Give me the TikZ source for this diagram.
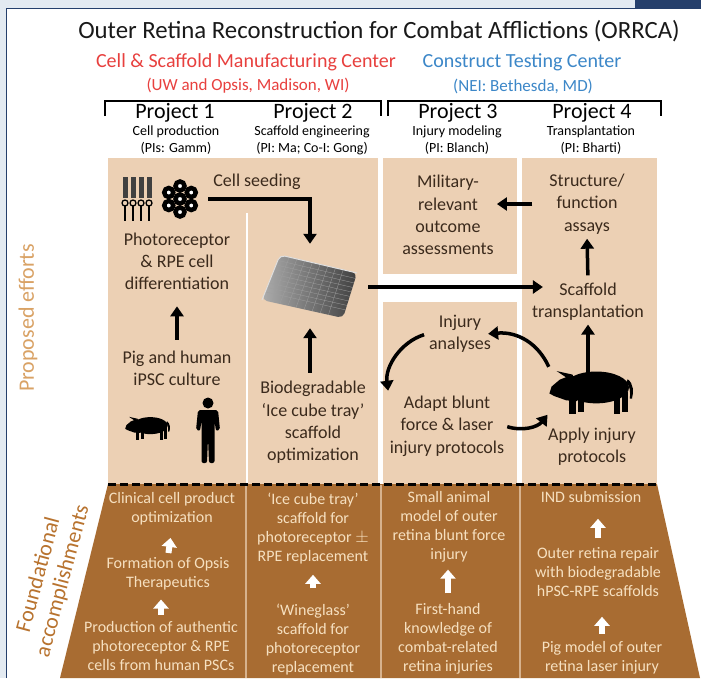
\documentclass[tikz,border=0pt]{standalone}
\usepackage{fontspec}
\setmainfont{Carlito}
\usetikzlibrary{arrows.meta,calc}

\definecolor{slide}{HTML}{E3EAF1}
\definecolor{frameblue}{HTML}{253F6B}
\definecolor{tan}{HTML}{ECD0B4}
\definecolor{bark}{HTML}{A86C32}
\definecolor{ink}{HTML}{3B2A1C}
\definecolor{cream}{HTML}{F6E0C0}
\definecolor{mfgred}{HTML}{E8403E}
\definecolor{testblue}{HTML}{3C87C8}
\definecolor{propcol}{HTML}{D9A265}
\definecolor{foundcol}{HTML}{B8732F}

\newcommand\fsz[2]{\fontsize{#1}{#2}\selectfont}

\tikzset{
  pig/.pic={
    \fill (0.1,-0.06) ellipse (0.76 and 0.37);
    \fill (-0.45,-0.36) -- (-0.75,-0.24) -- (-0.94,-0.08) -- (-0.99,0.08) -- (-0.88,0.14) -- (-0.6,0.24) -- (-0.35,0.26) -- cycle;
    \fill (-0.58,-0.28) -- (-0.82,-0.44) -- (-0.46,-0.36) -- cycle;
    \fill (-0.54,0.1) rectangle (-0.38,0.56);
    \fill (-0.32,0.15) rectangle (-0.18,0.5);
    \fill (0.5,0.1) rectangle (0.65,0.56);
    \fill (0.7,0.05) rectangle (0.83,0.5);
    \fill (0.83,-0.25) .. controls (0.97,-0.15) and (0.97,0.05) .. (0.93,0.2) -- (0.88,0.2) .. controls (0.9,0.05) and (0.88,-0.1) .. (0.8,-0.18) -- cycle;
  },
  man/.pic={
    \fill (0,-27) circle (5.5);
    \fill[rounded corners=2pt] (-10,-20) -- (10,-20) -- (12,0) -- (8,1) -- (6.5,-9) -- (6.5,33) -- (1,33) -- (0,8) -- (-1,33) -- (-6.5,33) -- (-6.5,-9) -- (-8,1) -- (-12,0) -- cycle;
  }
}

\begin{document}
\begin{tikzpicture}
[x=1pt,y=-1pt
,txt/.style={align=center,inner sep=1pt,text=ink,font=\fsz{18}{22.3}}
,ftxt/.style={align=center,inner sep=1pt,text=cream,font=\fsz{16}{19}}
,proj/.style={inner sep=1pt,font=\fsz{22}{24}}
,sub/.style={align=center,inner sep=1pt,font=\fsz{14}{17}}
,arr/.style={draw=black,line width=3.5pt,arrows={-Triangle[width=13pt,length=10pt]}}
,warr/.style={draw=white,line width=6pt,arrows={-Triangle[width=15pt,length=9pt]}}
,brk/.style={line width=2.6pt}
,hole/.style={inner sep=0pt}
]
\useasboundingbox (0,0) rectangle (701,678);

% slide frame
\fill[slide] (0,0) rectangle (701,678);
\fill[white] (7,9) rectangle (701,678);
\draw[frameblue,line width=1.3pt] (6.5,678) -- (6.5,8.5) -- (635,8.5);
\fill[frameblue] (635,0) rectangle (701,8.5);

% headings
\node[font=\fsz{24.8}{28},text=black!90] (title) at (379,31) {Outer Retina Reconstruction for Combat Afflictions (ORRCA)};
\node[font=\fsz{20}{22},text=mfgred] (mfg) at (246,62) {Cell \& Scaffold Manufacturing Center};
\node[font=\fsz{17}{20},text=mfgred] (mfgloc) at (248,86) {(UW and Opsis, Madison, WI)};
\node[font=\fsz{20}{22},text=testblue] (tst) at (522,62) {Construct Testing Center};
\node[font=\fsz{17}{20},text=testblue] (tstloc) at (523,86) {(NEI: Bethesda, MD)};

\draw[brk] (105,116) -- (105,101) -- (381,101) -- (381,116);
\draw[brk] (388,116) -- (388,101) -- (661,101) -- (661,116);

\node[proj] (p1) at (175,113) {Project 1};
\node[proj] (p2) at (313,113) {Project 2};
\node[proj] (p3) at (458,113) {Project 3};
\node[proj] (p4) at (592,113) {Project 4};
\node[sub] (p1s) at (176,140.5) {Cell production\\(PIs: Gamm)};
\node[sub] (p2s) at (312,140.5) {Scaffold engineering\\(PI: Ma; Co-I: Gong)};
\node[sub] (p3s) at (457,140.5) {Injury modeling\\(PI: Blanch)};
\node[sub] (p4s) at (591,140.5) {Transplantation\\(PI: Bharti)};

% proposed efforts panels
\fill[tan] (108,158) rectangle (378,484);
\draw[white,line width=2pt] (247,213) -- (247,484);
\fill[tan] (383,158) rectangle (517,274);
\fill[tan] (383,302) rectangle (517,484);
\fill[tan] (522,158) rectangle (657,484);

% foundational accomplishments
\fill[bark] (108,484) -- (657,484) -- (700,678) -- (60,678) -- cycle;
\foreach \x in {246,381,520}
  \draw[tan!70!bark,line width=1.5pt] (\x,485) -- (\x,678);
\draw[line width=3pt,dash pattern=on 8pt off 4pt] (108,484) -- (657,484);

\node[rotate=90,font=\fsz{22}{24},text=propcol] (prop) at (28,318) {Proposed efforts};
\node[rotate=75,align=center,font=\fsz{22}{25},text=foundcol] (found) at (51,578) {Foundational\\accomplishments};

% photoreceptors and RPE
\foreach \x in {125,133,141,149} {
  \fill[black!75] (\x-2.5,177) rectangle (\x+2.5,198);
  \draw[line width=1.3pt] (\x,203) circle (3);
  \draw[line width=1.3pt] (\x,206) -- (\x,221);
}
\node[circle,minimum size=38pt,hole] (rpe) at (180,199) {};
\foreach \a in {30,90,...,330}
  \draw[line width=4.5pt,fill=white] ([shift={(\a:13)}]rpe.center) circle (4.5);
\draw[line width=4.5pt,fill=white] (rpe.center) circle (4.5);

% scaffold tray
\node[minimum width=96pt,minimum height=64pt,hole] (tray) at (310,287) {};
\coordinate (tl) at (280,255);
\coordinate (tr) at (357,273);
\coordinate (br) at (343,318);
\coordinate (bl) at (262,300);
\shade[rounded corners=5pt,left color=gray!65,right color=black!75] (tl) -- (tr) -- (br) -- (bl) -- cycle;
\foreach \t in {0.12,0.22,...,0.9} {
  \draw[gray!75,line width=0.3pt] ($(tl)!\t!(tr)$) -- ($(bl)!\t!(br)$);
  \draw[gray!75,line width=0.3pt] ($(tl)!\t!(bl)$) -- ($(tr)!\t!(br)$);
}
\draw[gray!25,line width=1pt,rounded corners=5pt] (bl) -- (tl) -- (tr);

% animals
\pic[scale=23] at (148,427) {pig};
\pic at (208,430) {man};
\node[minimum width=86pt,minimum height=46pt,hole] (bigpig) at (592,390) {};
\pic[scale=43] at (bigpig) {pig};

% proposed efforts text
\node[txt] (seed) at (257,182) {Cell seeding};
\node[txt] (diff) at (177,261.5) {Photoreceptor\\\& RPE cell\\differentiation};
\node[txt] (ipsc) at (177,368) {Pig and human\\iPSC culture};
\node[txt] (bio) at (313,422.5) {Biodegradable\\`Ice cube tray'\\scaffold\\optimization};
\node[txt] (mil) at (448,215) {Military-\\relevant\\outcome\\assessments};
\node[txt] (strc) at (587,204) {Structure/\\function\\assays};
\node[txt] (transp) at (588,302) {Scaffold\\transplantation};
\node[txt] (injan) at (460,333.5) {Injury\\analyses};
\node[txt] (adapt) at (447,426) {Adapt blunt\\force \& laser\\injury protocols};
\node[txt] (apply) at (592,447) {Apply injury\\protocols};

\draw[arr,shorten <=9pt,shorten >=11pt] (rpe) -| (tray);
\draw[arr,shorten <=9.5pt,shorten >=15pt] (ipsc.north) -- (diff.south);
\draw[arr,shorten <=7.5pt,shorten >=9pt] (bio.north -| tray) -- (tray.south);
\draw[arr,shorten <=10pt,shorten >=-12pt] (tray.east) -- (tray.east -| transp.west);
\draw[arr,shorten <=16pt,shorten >=2pt] (strc.west) -- (strc.west -| mil.east);
\draw[arr,shorten <=6.5pt,shorten >=3.5pt] (transp.north) -- (strc.south);
\draw[arr,shorten <=-6pt,shorten >=2.5pt] (transp.south |- bigpig.north) -- (transp.south);
\draw[arr,shorten >=-4pt] (bigpig.north west) to[bend right=35] (injan.east);
\draw[arr,shorten <=4pt,shorten >=4pt] (injan.west) to[bend right=40] (adapt.north west);
\draw[arr,shorten <=2pt,shorten >=2pt] (adapt.east) to[bend right=35] (bigpig.south west);

% foundational text
\node[ftxt] (clin) at (172,508.5) {Clinical cell product\\optimization};
\node[ftxt] (opsis) at (168,574) {Formation of Opsis\\Therapeutics};
\node[ftxt] (prod) at (161,646) {Production of authentic\\photoreceptor \& RPE\\cells from human PSCs};
\node[ftxt] (ice) at (313,529) {`Ice cube tray'\\scaffold for\\photoreceptor $\pm$\\RPE replacement};
\node[ftxt] (wine) at (313,640) {`Wineglass'\\scaffold for\\photoreceptor\\replacement};
\node[ftxt] (small) at (449,527) {Small animal\\model of outer\\retina blunt force\\injury};
\node[ftxt] (first) at (448,639) {First-hand\\knowledge of\\combat-related\\retina injuries};
\node[ftxt] (ind) at (591,497) {IND submission};
\node[ftxt] (repair) at (598,572) {Outer retina repair\\with biodegradable\\hPSC-RPE scaffolds};
\node[ftxt] (pigm) at (602,657.5) {Pig model of outer\\retina laser injury};

\draw[warr,shorten <=3.5pt,shorten >=12pt] (opsis.north) -- (clin.south);
\draw[warr,shorten <=5.5pt,shorten >=8pt] (prod.north) -- (opsis.south -| prod);
\draw[warr,shorten <=15pt,shorten >=9pt] (wine.north) -- (ice.south);
\draw[warr,shorten <=9pt,shorten >=6pt] (first.north) -- (small.south -| first);
\draw[warr,shorten <=8pt,shorten >=15pt] (repair.north) -- (ind.south -| repair);
\draw[warr,shorten <=6pt,shorten >=19pt] (pigm.north) -- (repair.south -| pigm);
\end{tikzpicture}
\end{document}
